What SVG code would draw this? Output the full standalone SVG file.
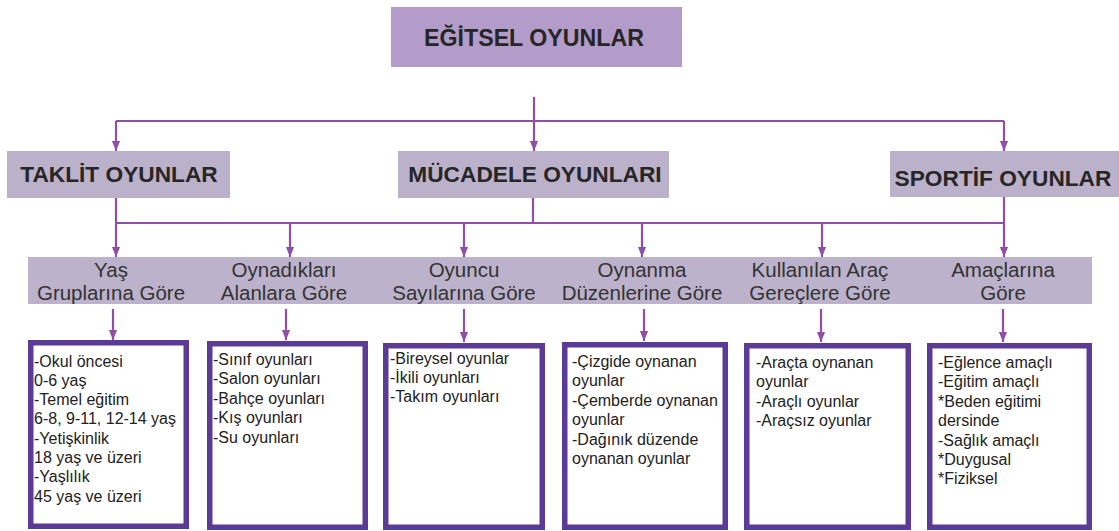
<svg xmlns="http://www.w3.org/2000/svg" width="1119" height="531" viewBox="0 0 1119 531">
<defs>
<style>
.bg{fill:#ffffff}
.top{fill:#b39bca}
.l2{fill:#bcb1ca}
.l3{fill:#bcb2cb}
.box{fill:#ffffff;stroke:#5b3b96;stroke-width:5.5}
.tb{font-family:"Liberation Sans",Arial,sans-serif;font-weight:bold;font-size:22.7px;fill:#262626;text-anchor:middle}
.tt{font-size:23.2px}
.t3{font-family:"Liberation Sans",Arial,sans-serif;font-size:20.5px;fill:#333333;text-anchor:middle}
.tc{font-family:"Liberation Sans",Arial,sans-serif;font-size:16px;fill:#222222}
.ln{fill:none;stroke:#8f4fa8;stroke-width:2.2}
.ar{fill:none;stroke:#8f4fa8;stroke-width:2.2;marker-end:url(#ah)}
</style>
<marker id="ah" markerUnits="userSpaceOnUse" markerWidth="10" markerHeight="10" refX="11" refY="5" orient="auto" viewBox="0 0 11 10">
<path d="M0,0.5 L11,5 L0,9.5 z" fill="#8f4fa8"/>
</marker>
</defs>
<rect class="bg" x="0" y="0" width="1119" height="531"/>

<g id="connectors">
<path class="ln" d="M534,97 V121 M116,121 H1004"/>
<path class="ar" d="M116,121 V151"/>
<path class="ar" d="M534,121 V151"/>
<path class="ar" d="M1004,121 V151"/>
<path class="ln" d="M116,198 V223 M533,198 V223 M1004,197 V223 M116,223 H1004"/>
<path class="ar" d="M116,223 V257"/>
<path class="ar" d="M290,223 V257"/>
<path class="ar" d="M464,223 V257"/>
<path class="ar" d="M642,223 V257"/>
<path class="ar" d="M822,223 V257"/>
<path class="ar" d="M1004,223 V257"/>
<path class="ar" d="M113,309 V340"/>
<path class="ar" d="M286,309 V340"/>
<path class="ar" d="M464,309 V342"/>
<path class="ar" d="M644,309 V341"/>
<path class="ar" d="M821,309 V342"/>
<path class="ar" d="M1003,309 V342"/>
</g>

<g id="egitsel">
<rect class="top" x="391" y="7" width="291" height="60"/>
<text class="tb tt" x="534" y="46">EĞİTSEL OYUNLAR</text>
</g>

<g id="taklit">
<rect class="l2" x="7" y="151" width="223" height="47"/>
<text class="tb" x="119" y="182">TAKLİT OYUNLAR</text>
</g>
<g id="mucadele">
<rect class="l2" x="398" y="151" width="271" height="47"/>
<text class="tb" x="535" y="182">MÜCADELE OYUNLARI</text>
</g>
<g id="sportif">
<rect class="l2" x="890" y="151" width="229" height="46"/>
<text class="tb" x="1003" y="186">SPORTİF OYUNLAR</text>
</g>

<g id="band">
<rect class="l3" x="28" y="257" width="1064" height="47"/>
</g>
<g id="yas">
<text class="t3" x="111" y="276.5">Yaş</text>
<text class="t3" x="111" y="300">Gruplarına Göre</text>
</g>
<g id="alan">
<text class="t3" x="284" y="276.5">Oynadıkları</text>
<text class="t3" x="284" y="300">Alanlara Göre</text>
</g>
<g id="oyuncu">
<text class="t3" x="464" y="276.5">Oyuncu</text>
<text class="t3" x="464" y="300">Sayılarına Göre</text>
</g>
<g id="duzen">
<text class="t3" x="642" y="276.5">Oynanma</text>
<text class="t3" x="642" y="300">Düzenlerine Göre</text>
</g>
<g id="arac">
<text class="t3" x="820" y="276.5">Kullanılan Araç</text>
<text class="t3" x="820" y="300">Gereçlere Göre</text>
</g>
<g id="amac">
<text class="t3" x="1003" y="276.5">Amaçlarına</text>
<text class="t3" x="1003" y="300">Göre</text>
</g>

<g id="box1">
<rect class="box" x="30.75" y="342.75" width="155.5" height="183.5"/>
<text class="tc" x="34" y="366.5">-Okul öncesi</text>
<text class="tc" x="34" y="385.8">0-6 yaş</text>
<text class="tc" x="34" y="405.1">-Temel eğitim</text>
<text class="tc" x="34" y="424.4">6-8, 9-11, 12-14 yaş</text>
<text class="tc" x="34" y="443.7">-Yetişkinlik</text>
<text class="tc" x="34" y="463">18 yaş ve üzeri</text>
<text class="tc" x="34" y="482.3">-Yaşlılık</text>
<text class="tc" x="34" y="501.6">45 yaş ve üzeri</text>
</g>
<g id="box2">
<rect class="box" x="209.75" y="343.75" width="155.5" height="183.5"/>
<text class="tc" x="213" y="364.5">-Sınıf oyunları</text>
<text class="tc" x="213" y="384">-Salon oyunları</text>
<text class="tc" x="213" y="403.5">-Bahçe oyunları</text>
<text class="tc" x="213" y="423">-Kış oyunları</text>
<text class="tc" x="213" y="442.5">-Su oyunları</text>
</g>
<g id="box3">
<rect class="box" x="385.75" y="345.75" width="156.5" height="181.5"/>
<text class="tc" x="390" y="363.5">-Bireysel oyunlar</text>
<text class="tc" x="390" y="382.8">-İkili oyunları</text>
<text class="tc" x="390" y="402.1">-Takım oyunları</text>
</g>
<g id="box4">
<rect class="box" x="564.75" y="344.75" width="160.5" height="182.5"/>
<text class="tc" x="572" y="367">-Çizgide oynanan</text>
<text class="tc" x="572" y="386.4">oyunlar</text>
<text class="tc" x="572" y="405.8">-Çemberde oynanan</text>
<text class="tc" x="572" y="425.2">oyunlar</text>
<text class="tc" x="572" y="444.6">-Dağınık düzende</text>
<text class="tc" x="572" y="464">oynanan oyunlar</text>
</g>
<g id="box5">
<rect class="box" x="746.75" y="345.75" width="161.5" height="181.5"/>
<text class="tc" x="756" y="368">-Araçta oynanan</text>
<text class="tc" x="756" y="387.3">oyunlar</text>
<text class="tc" x="756" y="406.6">-Araçlı oyunlar</text>
<text class="tc" x="756" y="425.9">-Araçsız oyunlar</text>
</g>
<g id="box6">
<rect class="box" x="929.75" y="345.75" width="159.5" height="181.5"/>
<text class="tc" x="938" y="368">-Eğlence amaçlı</text>
<text class="tc" x="938" y="387.4">-Eğitim amaçlı</text>
<text class="tc" x="938" y="406.8">*Beden eğitimi</text>
<text class="tc" x="938" y="426.2">dersinde</text>
<text class="tc" x="938" y="445.6">-Sağlık amaçlı</text>
<text class="tc" x="938" y="465">*Duygusal</text>
<text class="tc" x="938" y="484.4">*Fiziksel</text>
</g>
</svg>
